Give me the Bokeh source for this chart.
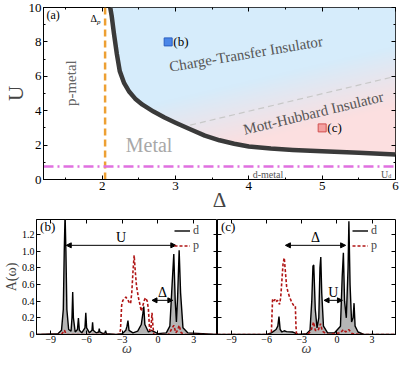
import numpy as np
from bokeh.plotting import figure
from bokeh.layouts import column, row
from bokeh.models import (LinearAxis, SingleIntervalTicker, Range1d, Label, Arrow,
                          NormalHead, Legend, LegendItem, CustomJSTickFormatter)
from bokeh.embed import file_html
from bokeh.resources import INLINE

FONT = "Liberation Serif"

# ---------------- Panel (a): phase diagram ----------------
bound_delta = [2.11, 2.13, 2.16, 2.2, 2.24, 2.3, 2.37, 2.45, 2.55, 2.7, 2.85, 3.0, 3.2, 3.4, 3.6, 3.8, 4.0, 4.3, 4.6, 5.0, 5.5, 6.0]
bound_U = [10.0, 9.5, 8.5, 7.3, 6.3, 5.6, 5.1, 4.7, 4.35, 3.95, 3.6, 3.3, 2.92, 2.55, 2.28, 2.08, 1.92, 1.8, 1.72, 1.64, 1.55, 1.45]
delta_p = 2.04
U_d = 0.75
mh_delta = [3.2, 6.0]
mh_U = [3.16, 6.0]
point_b = [2.9, 8.0]
point_c = [5.0, 3.0]

# ---------------- Panel (b) spectra ----------------
om_bd = [-10.2, -8.4, -8.1, -7.95, -7.87, -7.8, -7.73, -7.65, -7.5, -7.3, -7.22, -7.16, -7.1, -6.95, -6.76, -6.68, -6.6, -6.4,
         -6.13, -6.06, -5.99, -5.75, -5.54, -5.49, -5.44, -5.2, -4.98, -4.93, -4.88, -4.6, -4.45, -4.4, -4.33, -3.5, -3.0,
         -2.7, -2.6, -2.52, -2.43, -2.1, -1.7, -1.4, -1.27, -1.19, -1.1, -0.8, -0.55, 0.0, 0.7, 1.0, 1.15, 1.33, 1.45,
         1.55, 1.65, 1.78, 1.9, 2.1, 2.5, 5.0]
A_bd = [0.0, 0.01, 0.05, 0.3, 1.0, 1.45, 1.0, 0.3, 0.06, 0.04, 0.2, 0.51, 0.2, 0.03, 0.06, 0.196, 0.05, 0.02,
        0.08, 0.26, 0.08, 0.02, 0.05, 0.147, 0.05, 0.02, 0.03, 0.07, 0.03, 0.01, 0.02, 0.045, 0.01, 0.0, 0.01,
        0.05, 0.1, 0.166, 0.05, 0.02, 0.04, 0.12, 0.25, 0.335, 0.12, 0.03, 0.05, 0.01, 0.02, 0.1, 0.5, 0.967, 0.4,
        0.15, 0.45, 1.01, 0.5, 0.08, 0.02, 0.0]
om_bp = [-10.2, -8.1, -7.85, -7.7, -3.3, -3.15, -3.05, -2.95, -2.8, -2.7, -2.55, -2.4, -2.3, -2.2, -2.1, -2.0, -1.9,
         -1.8, -1.65, -1.5, -1.4, -1.3, -1.15, -1.05, -0.9, -0.8, -0.7, -0.6, -0.5, -0.42, -0.35, 0.9, 1.2, 1.33,
         1.5, 1.65, 1.78, 1.95, 2.3, 5.0]
A_bp = [0.0, 0.0, 0.05, 0.0, 0.0, 0.05, 0.35, 0.41, 0.43, 0.45, 0.42, 0.38, 0.37, 0.5, 0.75, 0.95, 0.75,
        0.58, 0.45, 0.35, 0.28, 0.33, 0.41, 0.44, 0.4, 0.3, 0.05, 0.05, 0.26, 0.1, 0.0, 0.0, 0.08, 0.11,
        0.02, 0.05, 0.11, 0.02, 0.0, 0.0]
arrow_U_b = [-7.7, 1.5, 1.07]
arrow_D_b = [-0.5, 1.25, 0.41]

# ---------------- Panel (c) spectra ----------------
om_cd = [-10.2, -6.0, -5.6, -5.2, -5.05, -4.95, -4.85, -4.7, -4.5, -4.3, -3.8, -3.6, -3.3, -2.6, -2.3, -2.15, -2.05,
         -1.98, -1.85, -1.7, -1.55, -1.45, -1.38, -1.3, -1.15, -0.8, -0.2, 0.3, 0.45, 0.55, 0.65, 0.8, 0.95, 1.02,
         1.12, 1.25, 1.38, 1.46, 1.55, 1.8, 2.3, 5.0]
A_cd = [0.0, 0.0, 0.02, 0.06, 0.1, 0.215, 0.06, 0.03, 0.045, 0.035, 0.03, 0.02, 0.0, 0.01, 0.05, 0.4, 0.82,
        0.835, 0.3, 0.08, 0.2, 0.8, 0.93, 0.5, 0.1, 0.02, 0.02, 0.1, 0.7, 0.98, 0.4, 0.2, 0.8, 1.36,
        0.6, 0.15, 0.2, 0.376, 0.1, 0.03, 0.0, 0.0]
om_cp = [-10.2, -5.75, -5.6, -5.5, -5.4, -5.3, -5.2, -5.1, -5.0, -4.9, -4.8, -4.7, -4.6, -4.5, -4.4, -4.3, -4.2,
         -4.05, -3.9, -3.75, -3.65, -3.55, -3.5, -3.45, -2.5, -2.2, -2.0, -1.85, -1.6, -1.4, -1.25, -0.8, 0.3,
         0.55, 0.75, 1.0, 1.3, 2.0, 5.0]
A_cp = [0.0, 0.0, 0.02, 0.42, 0.4, 0.42, 0.39, 0.41, 0.4, 0.36, 0.45, 0.65, 0.85, 0.92, 0.75, 0.58, 0.52,
        0.45, 0.4, 0.36, 0.34, 0.34, 0.1, 0.0, 0.0, 0.05, 0.15, 0.05, 0.05, 0.13, 0.04, 0.0, 0.02,
        0.06, 0.03, 0.06, 0.01, 0.0, 0.0]
arrow_D_c = [-4.4, 0.74, 1.07]
arrow_U_c = [-1.1, 0.47, 0.41]


def hide_labels(ax):
    ax.major_label_text_font_size = "0px"
    ax.major_label_text_color = None
    ax.major_label_standoff = 0


def style_axes(p, xint, xminor, yint, yminor, show_ylabels=True, tick_size="13px"):
    for ax in p.below + p.left:
        ax.major_tick_in = 4
        ax.major_tick_out = 0
        ax.minor_tick_in = 2
        ax.minor_tick_out = 0
        ax.axis_line_color = "black"
        ax.major_label_text_font = FONT
        ax.major_label_text_font_size = tick_size
        ax.major_label_text_color = "black"
        ax.major_label_standoff = 2
    p.below[0].ticker = SingleIntervalTicker(interval=xint, num_minor_ticks=xminor)
    p.left[0].ticker = SingleIntervalTicker(interval=yint, num_minor_ticks=yminor)
    if not show_ylabels:
        hide_labels(p.left[0])
    top = LinearAxis(ticker=SingleIntervalTicker(interval=xint, num_minor_ticks=xminor),
                     major_tick_in=4, major_tick_out=0, minor_tick_in=2, minor_tick_out=0,
                     axis_line_color=None)
    right = LinearAxis(ticker=SingleIntervalTicker(interval=yint, num_minor_ticks=yminor),
                       major_tick_in=4, major_tick_out=0, minor_tick_in=2, minor_tick_out=0,
                       axis_line_color=None)
    hide_labels(top)
    hide_labels(right)
    p.add_layout(top, "above")
    p.add_layout(right, "right")
    p.xgrid.visible = False
    p.ygrid.visible = False
    p.outline_line_color = "black"
    p.outline_line_width = 1


# ================= Top figure =================
pa = figure(width=399, height=214, x_range=Range1d(1.2, 6.0), y_range=Range1d(0, 10),
            output_backend="svg", toolbar_location=None,
            min_border_left=0, min_border_right=4, min_border_top=7, min_border_bottom=0)
style_axes(pa, 1, 2, 2, 2)
xa, ya = pa.below[0], pa.left[0]
xa.axis_label = "Δ"
ya.axis_label = "U"
for ax in (xa, ya):
    ax.axis_label_text_font = FONT
    ax.axis_label_text_font_size = "21px"
    ax.axis_label_text_font_style = "normal"
xa.axis_label_standoff = -5
ya.axis_label_standoff = -2

# gradient-filled insulator region
nx, ny = 480, 300
x0, x1, y0, y1 = 1.2, 6.0, 0.0, 10.0
xs = x0 + (np.arange(nx) + 0.5) * (x1 - x0) / nx
ys = y0 + (np.arange(ny) + 0.5) * (y1 - y0) / ny
X, Y = np.meshgrid(xs, ys)
bnd = np.interp(xs, bound_delta, bound_U, left=np.inf)
mask = Y > bnd[None, :]
slope = (mh_U[1] - mh_U[0]) / (mh_delta[1] - mh_delta[0])
dist = Y - (mh_U[0] + (X - mh_delta[0]) * slope)
t = np.clip(0.5 + dist / 3.5, 0, 1)
blue = np.array([214, 236, 251])
pink = np.array([252, 223, 224])
img = np.zeros((ny, nx, 4), dtype=np.uint8)
for k in range(3):
    img[..., k] = (pink[k] * (1 - t) + blue[k] * t).astype(np.uint8)
img[..., 3] = np.where(mask, 255, 0)
img32 = img.view(dtype=np.uint32).reshape((ny, nx))
pa.image_rgba(image=[img32], x=x0, y=y0, dw=x1 - x0, dh=y1 - y0)

pa.line(mh_delta, mh_U, line_color="#c8c8c8", line_width=1.2, line_dash="6 4")
pa.line(bound_delta, bound_U, line_color="#3a3a3a", line_width=4.5, line_join="round")
pa.line([delta_p, delta_p], [0, 10], line_color="#eda033", line_width=2.5, line_dash="7 4")
pa.line([1.2, 6.0], [U_d, U_d], line_color="#e070e0", line_width=2.5, line_dash="10 4 2 4")
pa.scatter([point_b[0]], [point_b[1]], marker="square", size=8, fill_color="#4a86e8", line_color="#2a5fc0")
pa.scatter([point_c[0]], [point_c[1]], marker="square", size=8, fill_color="#f4a0a0", line_color="#d05050")


def lab(p, x, y, text, size, color="black", angle=0.0, align="left", baseline="middle", style="normal"):
    p.add_layout(Label(x=x, y=y, text=text, text_font=FONT, text_font_size=size, text_color=color,
                       angle=angle, text_align=align, text_baseline=baseline, text_font_style=style))


lab(pa, 1.24, 9.55, "(a)", "12px")
lab(pa, 1.93, 9.35, "Δ", "10px", align="right")
lab(pa, 1.93, 9.15, "p", "7px", align="left", style="italic")
lab(pa, 1.57, 5.6, "p-metal", "15px", color="#666666", angle=np.pi / 2, align="center")
lab(pa, 2.64, 1.98, "Metal", "20px", color="#a8a8a8", align="center")
lab(pa, 3.96, 7.3, "Charge-Transfer Insulator", "15px", color="#555555", angle=np.deg2rad(9.6), align="center")
lab(pa, 4.88, 3.86, "Mott-Hubbard Insulator", "15px", color="#555555", angle=np.deg2rad(13.6), align="center")
lab(pa, point_b[0] + 0.07, point_b[1], "(b)", "13px")
lab(pa, point_c[0] + 0.07, point_c[1], "(c)", "13px")
lab(pa, 4.26, 0.28, "d-metal", "10px", color="#555555", align="center")
lab(pa, 5.9, 0.3, "U", "10px", color="#555555", align="right")
lab(pa, 5.9, 0.18, "d", "6px", color="#555555", align="left")


# ================= Bottom figures =================
def spectra_fig(width, om_d, A_d, om_p, A_p, tag, show_y, mbl, mbr):
    p = figure(width=width, height=144, x_range=Range1d(-10.2, 5.0), y_range=Range1d(0, 1.38),
               output_backend="svg", toolbar_location=None,
               min_border_left=mbl, min_border_right=mbr, min_border_top=5, min_border_bottom=0)
    style_axes(p, 3, 1, 0.2, 0, show_ylabels=show_y, tick_size="10px")
    xa = p.below[0]
    xa.major_label_standoff = 1
    xa.axis_label = "ω"
    xa.axis_label_text_font = FONT
    xa.axis_label_text_font_size = "14px"
    xa.axis_label_text_font_style = "italic"
    xa.axis_label_standoff = -5
    if show_y:
        ya = p.left[0]
        ya.formatter = CustomJSTickFormatter(code="return Math.abs(tick) < 1e-9 ? '0' : tick.toFixed(1);")
        ya.axis_label = "A(ω)"
        ya.axis_label_text_font = FONT
        ya.axis_label_text_font_size = "14px"
        ya.axis_label_text_font_style = "normal"
        ya.axis_label_standoff = 0
    p.varea(x=om_d, y1=[0] * len(om_d), y2=A_d, fill_color="#a8a8a8", fill_alpha=0.85)
    rd = p.line(om_d, A_d, line_color="black", line_width=1.4)
    rp = p.line(om_p, A_p, line_color="#b01515", line_width=1.6, line_dash="3 2")
    leg = Legend(items=[LegendItem(label="d", renderers=[rd]), LegendItem(label="p", renderers=[rp])],
                 location="top_right", background_fill_alpha=0, border_line_alpha=0,
                 label_text_font=FONT, label_text_font_size="12px", glyph_width=16, glyph_height=9,
                 label_height=9, spacing=0, padding=2, margin=2, label_standoff=3)
    p.add_layout(leg)
    lab(p, -9.9, 1.3, tag, "13px")
    return p


pb = spectra_fig(217, om_bd, A_bd, om_bp, A_bp, "(b)", True, 0, 0)
pc = spectra_fig(182, om_cd, A_cd, om_cp, A_cp, "(c)", False, 0, 4)


def arrow(p, spec):
    p.add_layout(Arrow(start=NormalHead(size=5, fill_color="black", line_color="black"),
                       end=NormalHead(size=5, fill_color="black", line_color="black"),
                       x_start=spec[0], x_end=spec[1], y_start=spec[2], y_end=spec[2],
                       line_width=1, line_color="black"))


arrow(pb, arrow_U_b)
arrow(pb, arrow_D_b)
arrow(pc, arrow_D_c)
arrow(pc, arrow_U_c)
lab(pb, (arrow_U_b[0] + arrow_U_b[1]) / 2, arrow_U_b[2] + 0.1, "U", "14px", align="center")
lab(pb, (arrow_D_b[0] + arrow_D_b[1]) / 2, arrow_D_b[2] + 0.1, "Δ", "14px", align="center")
lab(pc, (arrow_D_c[0] + arrow_D_c[1]) / 2, arrow_D_c[2] + 0.1, "Δ", "14px", align="center")
lab(pc, (arrow_U_c[0] + arrow_U_c[1]) / 2, arrow_U_c[2] + 0.1, "U", "14px", align="center")

layout = column(pa, row(pb, pc))
open("out.html", "w").write(file_html(layout, INLINE))
